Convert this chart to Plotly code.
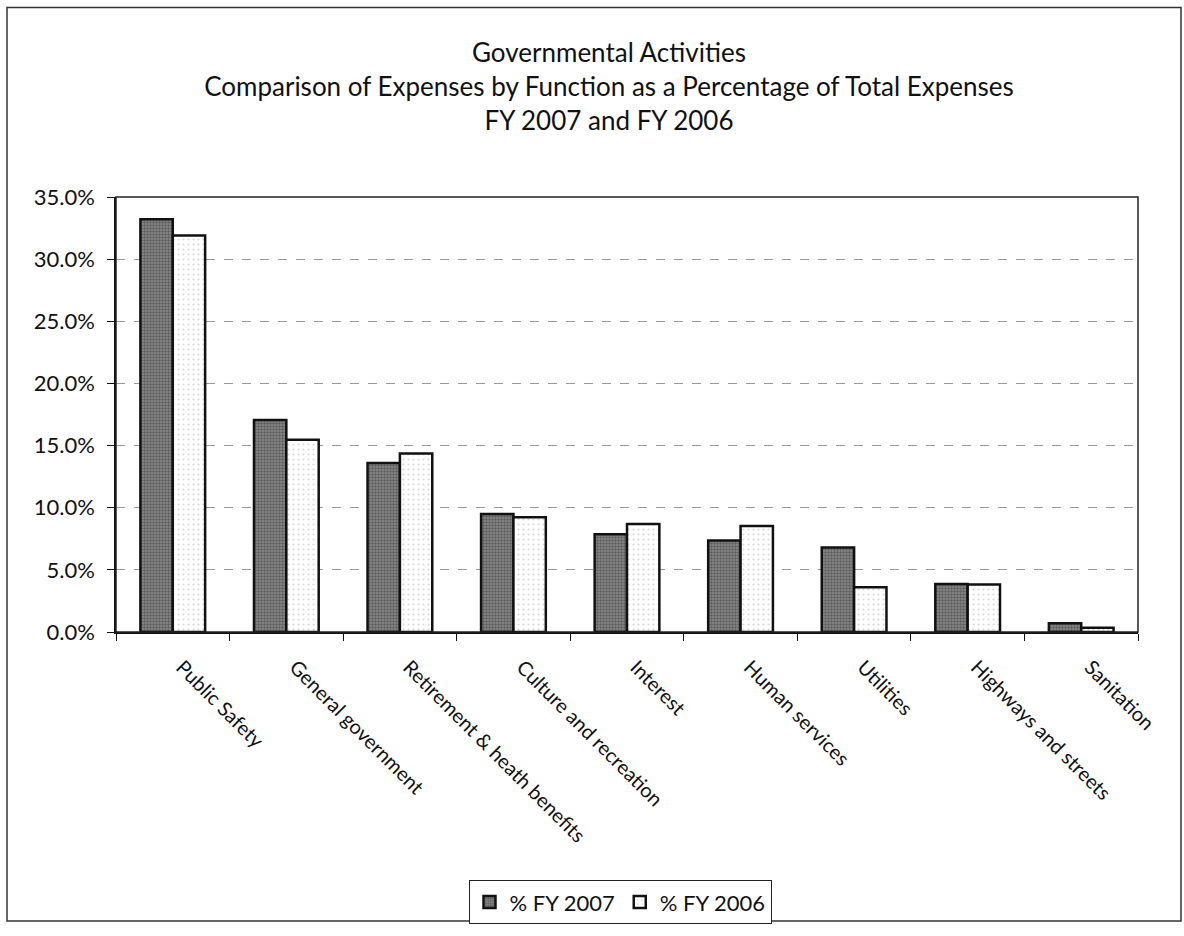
import plotly.graph_objects as go

categories = ["Public Safety", "General government", "Retirement & heath benefits",
              "Culture and recreation", "Interest", "Human services", "Utilities",
              "Highways and streets", "Sanitation"]
fy2007 = [33.2, 17.05, 13.6, 9.5, 7.87, 7.36, 6.79, 3.86, 0.71]
fy2006 = [31.9, 15.47, 14.36, 9.24, 8.69, 8.53, 3.6, 3.83, 0.35]
series_names = ["% FY 2007", "% FY 2006"]
title_lines = ["Governmental Activities",
               "Comparison of Expenses by Function as a Percentage of Total Expenses",
               "FY 2007 and FY 2006"]

FONT = "Lato"
W, H = 1184, 936
ML, MR, MT, MB = 116, 46, 197, 298

fig = go.Figure()
fig.add_trace(go.Bar(
    x=categories, y=fy2007, name=series_names[0],
    marker=dict(color="#7a7a7a", line=dict(color="#111", width=2.5),
                pattern=dict(shape=".", fgcolor="#2e2e2e", bgcolor="#8c8c8c",
                             size=3, solidity=0.5)),
))
fig.add_trace(go.Bar(
    x=categories, y=fy2006, name=series_names[1],
    marker=dict(color="white", line=dict(color="#111", width=2.5),
                pattern=dict(shape=".", fgcolor="#b0b0b0", bgcolor="white",
                             size=5, solidity=0.15)),
))

pw = W - ML - MR
ph = H - MT - MB
def px_x(x):
    return (x - ML) / pw
def px_y(y):
    return (H - MB - y) / ph

fig.update_layout(
    width=W, height=H,
    margin=dict(l=ML, r=MR, t=MT, b=MB),
    paper_bgcolor="white", plot_bgcolor="white",
    barmode="group", bargap=0.43, bargroupgap=0,
    font=dict(family=FONT, color="#111", size=20),
    title=dict(text="<br>".join(title_lines), x=609 / W, xref="container",
               xanchor="center", y=1 - 62 / H, yanchor="middle",
               font=dict(family=FONT, size=26, color="#111")),
    showlegend=True,
    legend=dict(orientation="h", x=px_x(620), xanchor="center",
                y=px_y(912), yanchor="middle",
                bordercolor="#222", borderwidth=1, bgcolor="white",
                font=dict(size=22), itemwidth=30, traceorder="normal",
                tracegroupgap=0),
    xaxis=dict(
        type="category", tickangle=45, showline=True, linecolor="#111", linewidth=1.5,
        ticks="outside", tickson="boundaries", ticklen=7, tickcolor="#111",
        tickfont=dict(size=20, family=FONT), showgrid=False,
        ticklabelshift=9, ticklabelstandoff=14,
    ),
    yaxis=dict(
        range=[0, 35], dtick=5, tickformat=".1f", ticksuffix="%",
        showline=True, linecolor="#111", linewidth=1.5, ticks="outside", ticklen=7,
        tickcolor="#111", showgrid=True, gridcolor="#999", griddash="dash",
        gridwidth=1, zeroline=False, tickfont=dict(size=22, family=FONT),
        ticklabelstandoff=8,
    ),
    shapes=[
        dict(type="rect", xref="paper", yref="paper", x0=0, x1=1, y0=0, y1=1,
             line=dict(color="#222", width=1.5), layer="above"),
        dict(type="rect", xref="paper", yref="paper",
             x0=px_x(7), x1=px_x(1181), y0=px_y(931), y1=px_y(5),
             line=dict(color="#333", width=1.5)),
    ],
)

fig.write_html("out.html")
